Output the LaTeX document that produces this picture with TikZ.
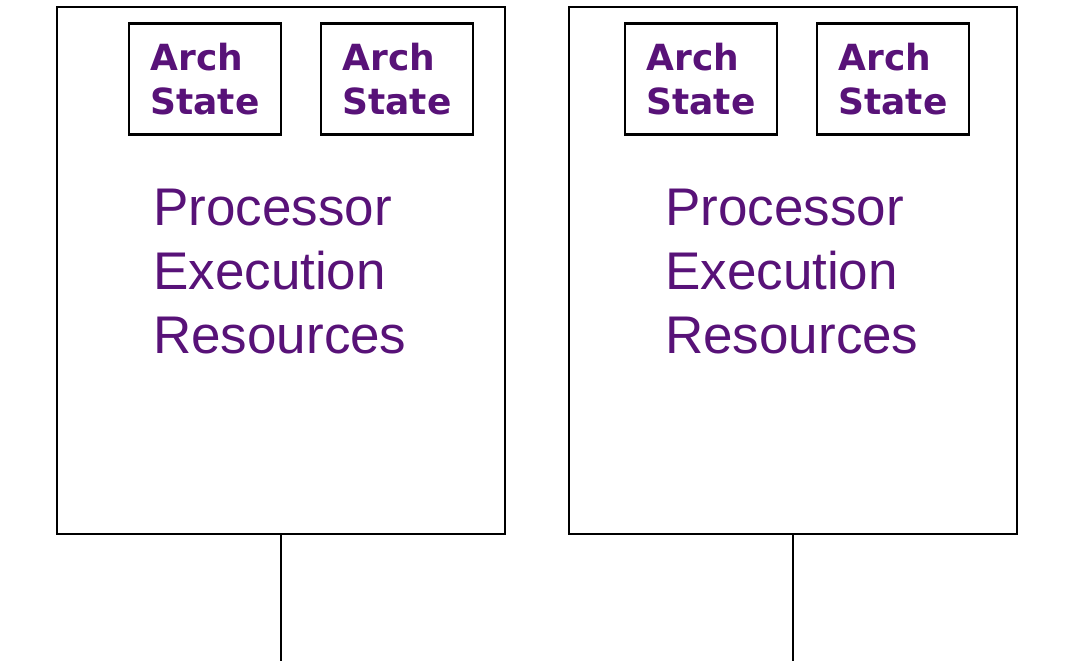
\documentclass[tikz,border=0pt]{standalone}
\usepackage{fontspec}
\setmainfont{Liberation Sans}
\newfontfamily\archfont{DejaVu Sans}
\definecolor{txtpurple}{RGB}{88,18,120}
\begin{document}
\begin{tikzpicture}[x=1pt,y=-1pt,
  core/.style={draw=black,line width=2.2pt,minimum width=448pt,minimum height=527pt,inner sep=0pt},
  archbox/.style={draw=black,line width=2.2pt,minimum width=152pt,minimum height=111pt,inner sep=0pt,
    align=left,text=txtpurple,font=\archfont\bfseries\fontsize{36}{44}\selectfont},
  restext/.style={align=left,anchor=west,inner sep=0pt,text=txtpurple,font=\fontsize{53}{64}\selectfont},
  bus/.style={draw=black,line width=2.2pt}]
\useasboundingbox (0,0) rectangle (1065,661);
% left processor core
\node[core] (coreL) at (281,270.5) {};
\node[archbox] (aL1) at (205,79) {Arch\\State};
\node[archbox] (aL2) at (397,79) {Arch\\State};
\node[restext] (rL) at (153,272) {Processor\\Execution\\Resources};
\coordinate (busL) at (281,661);
\draw[bus] (coreL.south) -- (busL);
% right processor core
\node[core] (coreR) at (793,270.5) {};
\node[archbox] (aR1) at (701,79) {Arch\\State};
\node[archbox] (aR2) at (893,79) {Arch\\State};
\node[restext] (rR) at (665,272) {Processor\\Execution\\Resources};
\coordinate (busR) at (793,661);
\draw[bus] (coreR.south) -- (busR);
\end{tikzpicture}
\end{document}
